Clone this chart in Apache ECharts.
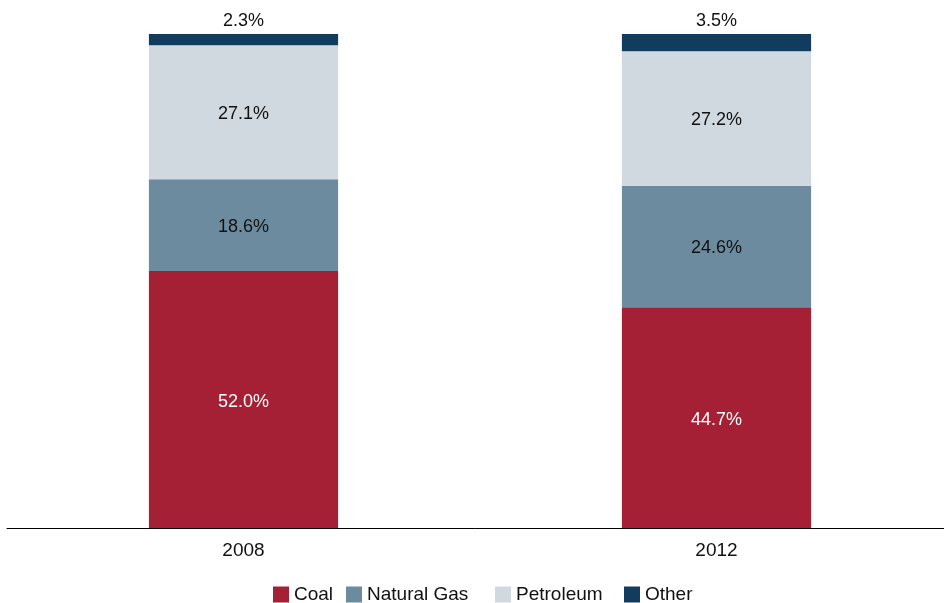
<!DOCTYPE html>
<html>
<head>
<meta charset="utf-8">
<style>
  html, body { margin: 0; padding: 0; background: #fff; }
  #chart { width: 944px; height: 603px; }
</style>
<script src="https://cdn.jsdelivr.net/npm/echarts@6/dist/echarts.min.js"></script>
</head>
<body>
<div id="chart"></div>
<script>
  var years = ['2008', '2012']
  var coal = [52.0, 44.7]
  var naturalGas = [18.6, 24.6]
  var petroleum = [27.1, 27.2]
  var other = [2.3, 3.5]
  var sources = ['Coal', 'Natural Gas', 'Petroleum', 'Other']

  var chart = echarts.init(document.getElementById('chart'))

  function makeSeries(name, data, color, labelColor, pos) {
    return {
      name: name,
      type: 'bar',
      stack: 'total',
      data: data,
      barWidth: '40%',
      itemStyle: { color: color },
      label: {
        show: true,
        position: pos,
        offset: pos === 'inside' ? [0, 2] : [0, 0],
        color: labelColor,
        fontSize: 18,
        fontFamily: 'Liberation Sans',
        distance: 4,
        formatter: function (p) {
          return p.value.toFixed(1) + '%'
        },
      },
    }
  }

  // one legend per item so the uneven spacing of the original can be kept
  var legendLeft = [273, 346, 495, 624]
  var legends = sources.map(function (name, i) {
    return {
      data: [name],
      left: legendLeft[i],
      top: 585,
      padding: 0,
      itemWidth: 16,
      itemHeight: 16,
      icon: 'rect',
      textStyle: { fontSize: 19, color: '#111', fontFamily: 'Liberation Sans' },
    }
  })

  chart.setOption({
    animation: false,
    textStyle: { fontFamily: 'Liberation Sans' },
    grid: {
      left: 7,
      width: 946,
      top: 34,
      bottom: 75,
      containLabel: false,
      outerBoundsMode: 'none',
    },
    xAxis: {
      type: 'category',
      data: years,
      axisLine: { lineStyle: { color: '#000', width: 1 } },
      axisTick: { show: false },
      axisLabel: { color: '#111', fontSize: 19, margin: 13 },
    },
    yAxis: {
      type: 'value',
      min: 0,
      max: 100,
      show: false,
    },
    legend: legends,
    series: [
      makeSeries('Coal', coal, '#a51f35', '#fff', 'inside'),
      makeSeries('Natural Gas', naturalGas, '#6d8b9f', '#111', 'inside'),
      makeSeries('Petroleum', petroleum, '#d0d8e0', '#111', 'inside'),
      makeSeries('Other', other, '#123c5e', '#111', 'top'),
    ],
  })
</script>
</body>
</html>
